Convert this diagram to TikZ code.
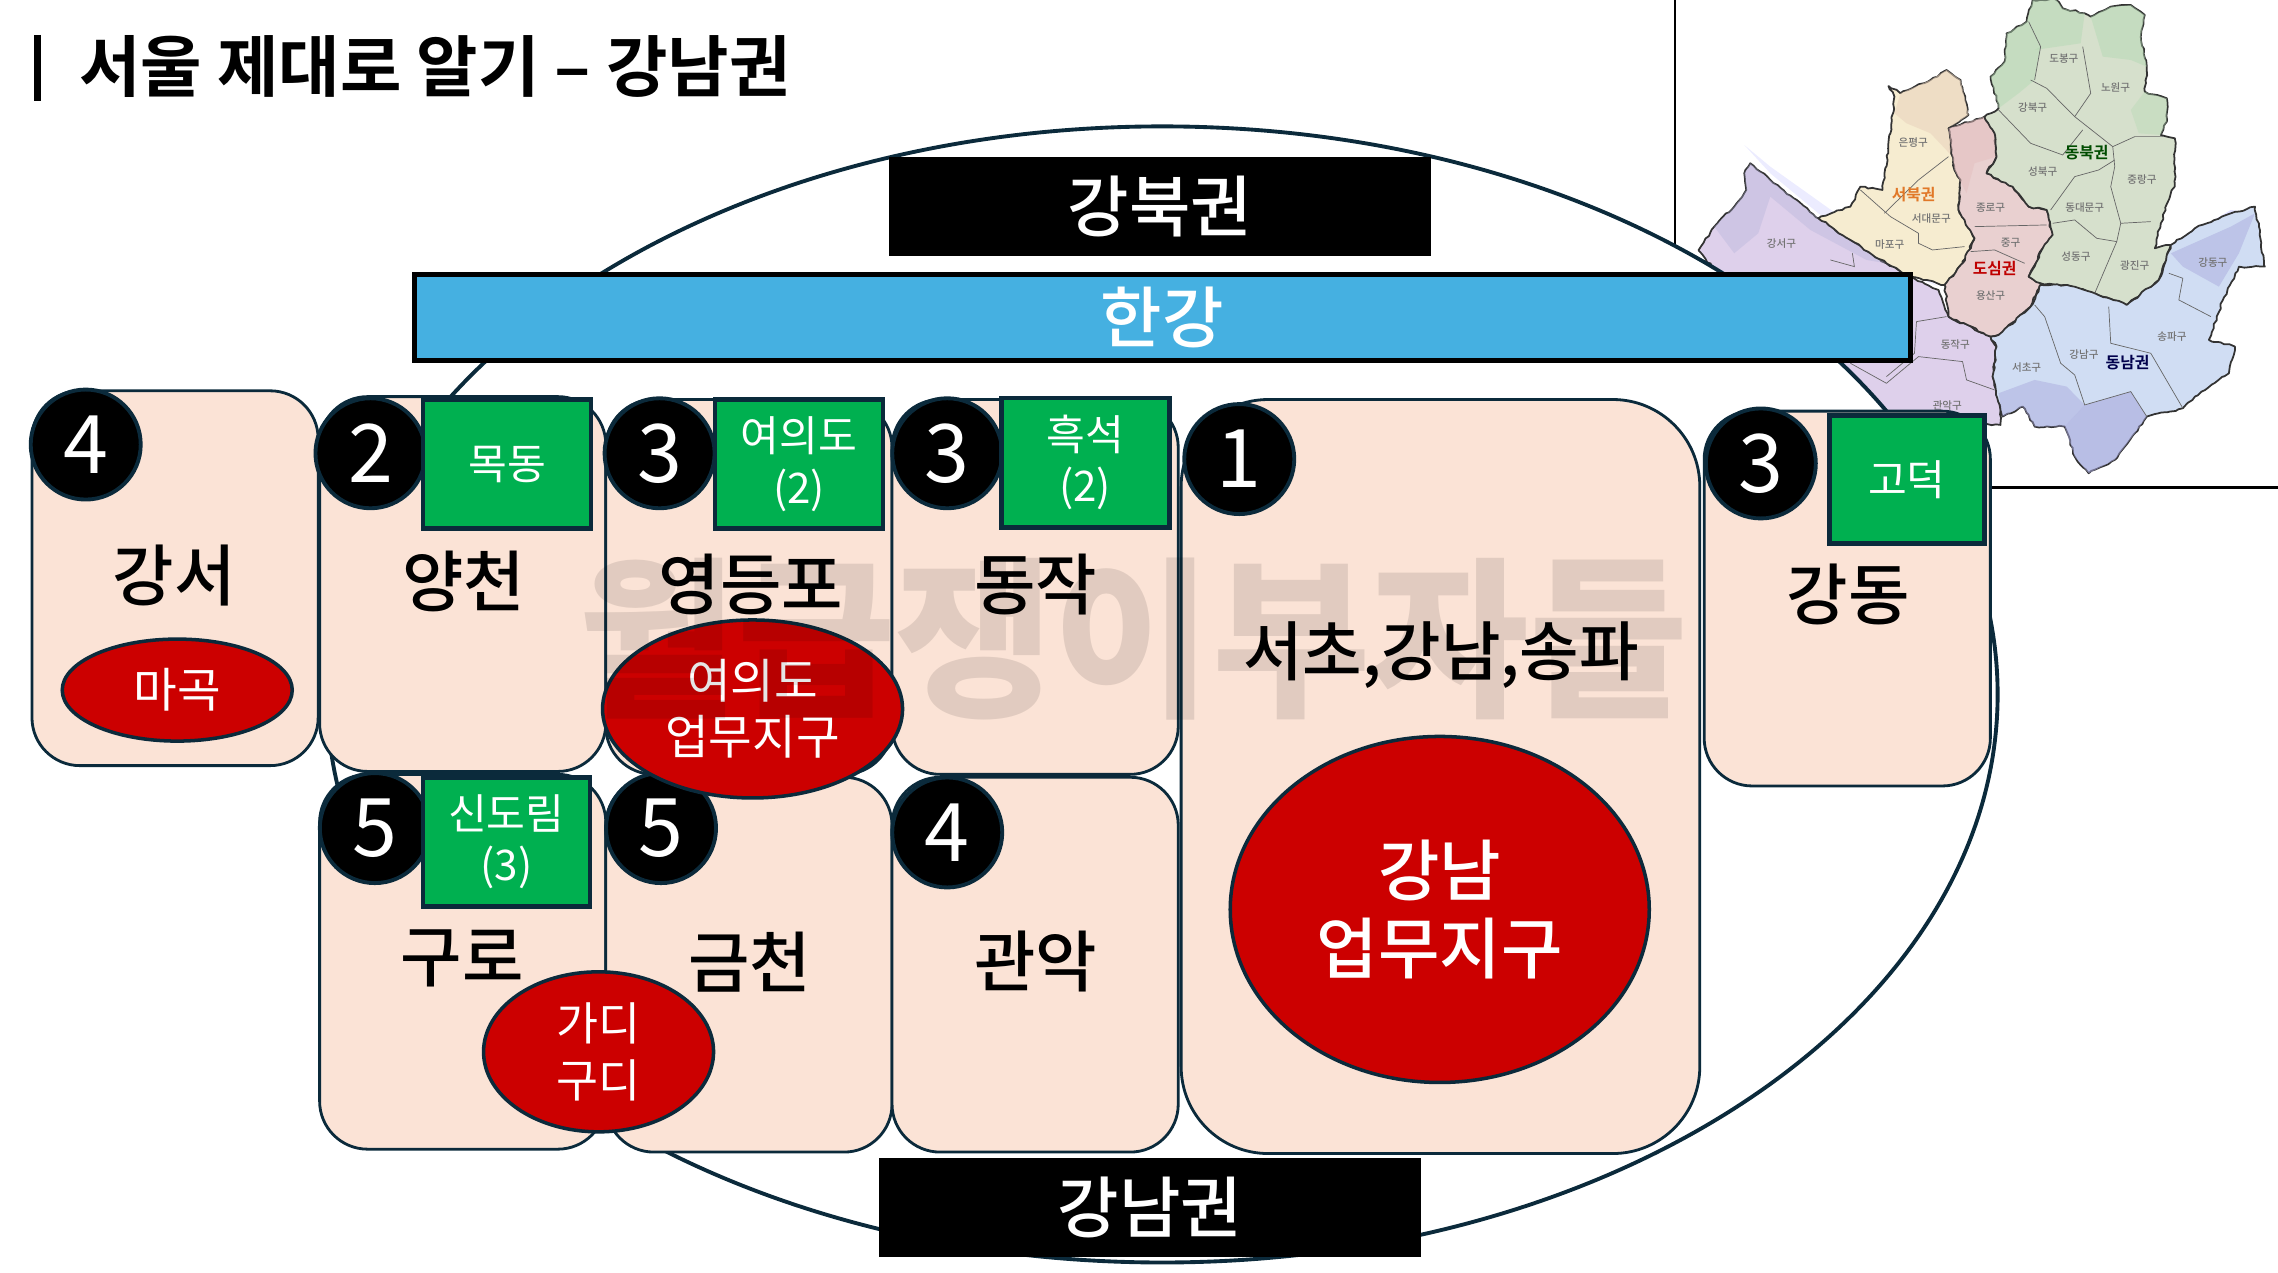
\documentclass[tikz,border=0pt]{standalone}
\usepackage{fontspec}
\setmainfont{Noto Sans CJK KR}[UprightFont=* Medium, BoldFont=* Bold]
\newfontfamily\markfont{Noto Sans CJK KR Black}
\newfontfamily\thinfont{Noto Sans CJK KR}
\usepackage{xcolor}
\definecolor{peach}{HTML}{FBE3D6}
\definecolor{navy}{HTML}{0B2A3B}
\definecolor{leaf}{HTML}{00B050}
\definecolor{crimson}{HTML}{CC0000}
\definecolor{river}{HTML}{45B0E1}
\usetikzlibrary{shapes.geometric}
\usetikzlibrary{decorations.pathmorphing}
\tikzset{
  zonebox/.style={draw=navy, fill=peach, line width=0.8pt, rounded corners=4.8mm},
  numdot/.style={circle, draw=navy, fill=black, line width=1.1pt, minimum size=11mm, inner sep=0pt, text=white, font=\thinfont\fontsize{23}{23}\selectfont},
  greenbox/.style={rectangle, draw=navy, fill=leaf, line width=1.3pt, inner sep=0pt, text=white, align=center, font=\thinfont\fontsize{12}{14.6}\selectfont},
  redoval/.style={ellipse, draw=navy, fill=crimson, line width=1pt, inner sep=0pt, text=white, align=center},
  blackbar/.style={rectangle, fill=black, inner sep=0pt, minimum width=54.2mm, minimum height=9.9mm, text=white, font=\fontsize{19}{19}\selectfont},
  zonelabel/.style={inner sep=0pt, font=\fontsize{19}{19}\selectfont},
  maplabel/.style={inner sep=0pt, text=black!55, font=\fontsize{3}{4}\selectfont},
  mapline/.style={draw=black!60, line width=0.2pt},
  mapedge/.style={draw=black!80, line width=0.5pt, line join=round, decorate, decoration={random steps, segment length=1.2pt, amplitude=0.3pt}},
}
\begin{document}
\begin{tikzpicture}[x=0.14528mm, y=-0.14528mm]
\useasboundingbox (0,0) rectangle (1568,875.6);
\pgfmathsetseed{7}

% frame lines
\draw[black, line width=0.7pt] (1153,0)--(1153,300);
\draw[black, line width=0.7pt] (1153,335.5)--(1568,335.5);

% seoul map
\begin{scope}[shift={(1135.8,0)}, xscale=0.2757, yscale=0.2294]
{
\fill[blue!12!white, opacity=0.6] (235,435)--(300,520)--(420,640)--(590,790)--(720,860)--(300,500)--cycle;
\fill[blue!15!white, opacity=0.8] (745,950)--(850,1000)--(950,900)--(975,850)--(1110,880)--(1190,925)--(1280,860)--(1310,730)--(1450,630)--(1510,640)--(1400,680)--(1320,740)--(1290,860)--(1190,940)--(1100,900)--(990,870)--(880,1000)--(840,1020)--cycle;

\draw[mapedge, fill={rgb,255:red,222;green,208;blue,235}] (250,490)--(300,540)--(420,655)--(500,720)--(590,790)--(650,830)--(720,870)--(745,950)--(850,1010)--(865,1040)--(855,1130)--(875,1230)--(875,1275)--(840,1272)--(500,1300)--(120,750)--(160,680)--(210,620)--(240,570)--(235,520)--cycle;
\fill[black!50!blue!30!white, opacity=0.35] (250,490)--(300,540)--(420,655)--(500,720)--(590,790)--(540,780)--(400,690)--(300,590)--(270,700)--(210,760)--(160,680)--(210,620)--(240,570)--(235,520)--cycle;

\draw[mapedge, fill={rgb,255:red,246;green,236;blue,208}] (420,655)--(500,620)--(525,560)--(580,570)--(600,400)--(610,290)--(595,258)--(625,280)--(700,240)--(740,210)--(775,240)--(795,345)--(745,385)--(760,510)--(775,540)--(770,630)--(810,715)--(780,790)--(735,855)--(650,830)--(590,790)--(500,720)--cycle;
\fill[brown!35!white, opacity=0.55] (625,280)--(700,240)--(740,210)--(775,240)--(795,345)--(745,385)--(755,470)--(700,400)--(640,370)--(610,340)--cycle;

\draw[mapedge, fill={rgb,255:red,233;green,208;blue,208}] (745,385)--(835,350)--(860,400)--(865,470)--(840,520)--(905,560)--(945,620)--(990,630)--(1005,705)--(980,745)--(945,830)--(975,850)--(950,920)--(870,1005)--(850,1010)--(745,950)--(735,855)--(780,790)--(810,715)--(770,630)--(775,540)--(760,510)--cycle;
\fill[black!40!red!25!white, opacity=0.5] (745,385)--(835,350)--(860,400)--(865,470)--(810,490)--(790,580)--(760,510)--cycle;

\draw[mapedge, fill={rgb,255:red,214;green,224;blue,204}] (835,350)--(870,325)--(850,230)--(885,185)--(890,100)--(940,65)--(955,0)--(1015,0)--(1030,25)--(1085,40)--(1100,50)--(1150,20)--(1200,15)--(1235,45)--(1225,110)--(1240,200)--(1235,275)--(1290,295)--(1290,365)--(1275,405)--(1310,415)--(1310,550)--(1275,670)--(1260,745)--(1300,735)--(1270,840)--(1190,915)--(1110,880)--(1040,855)--(975,850)--(945,830)--(980,745)--(1005,705)--(990,630)--(945,620)--(905,560)--(840,520)--(865,470)--(860,400)--cycle;
\fill[black!50!green!30!white, opacity=0.45] (955,0)--(1015,0)--(1030,25)--(1085,40)--(1075,130)--(960,150)--(975,140)--(940,65)--cycle;
\fill[black!50!green!30!white, opacity=0.45] (1100,50)--(1150,20)--(1200,15)--(1235,45)--(1225,110)--(1240,200)--(1200,180)--(1130,170)--cycle;
\fill[black!50!green!30!white, opacity=0.45] (890,100)--(940,65)--(975,140)--(960,240)--(920,280)--(870,325)--(850,230)--(885,185)--cycle;
\fill[black!50!green!30!white, opacity=0.35] (1235,275)--(1290,295)--(1290,365)--(1275,405)--(1220,400)--(1200,330)--cycle;

\draw[mapedge, fill={rgb,255:red,208;green,221;blue,243}] (850,1010)--(870,1005)--(950,920)--(975,855)--(1040,855)--(1110,880)--(1190,915)--(1270,840)--(1300,735)--(1360,685)--(1450,640)--(1510,620)--(1520,680)--(1535,800)--(1470,800)--(1430,900)--(1395,1020)--(1460,1040)--(1445,1120)--(1360,1190)--(1330,1225)--(1240,1250)--(1210,1300)--(1160,1380)--(1095,1420)--(1060,1370)--(1035,1280)--(960,1280)--(930,1220)--(880,1250)--(875,1230)--(855,1130)--(865,1040)--cycle;
\fill[black!40!blue!35!white, opacity=0.55] (1085,1215)--(1200,1175)--(1240,1250)--(1210,1300)--(1160,1380)--(1095,1420)--(1060,1370)--(1035,1280)--cycle;
\fill[black!40!blue!35!white, opacity=0.45] (870,1180)--(960,1140)--(1040,1160)--(1085,1215)--(1035,1280)--(960,1280)--(930,1220)--(880,1250)--cycle;
\fill[black!40!blue!35!white, opacity=0.45] (1300,760)--(1450,680)--(1510,640)--(1470,760)--(1420,860)--(1330,800)--cycle;

% district lines
\draw[mapline] (950,240)--(990,265)--(1060,350)--(1155,440)--(1160,500)--(1150,560)--(1175,670)--(1165,725)--(1110,880);
\draw[mapline] (1080,140)--(1100,280)--(1060,350);
\draw[mapline] (945,65)--(975,140)--(960,240);
\draw[mapline] (870,330)--(950,430)--(1030,465)--(1080,390);
\draw[mapline] (1155,440)--(1210,410)--(1280,410);
\draw[mapline] (1000,630)--(1060,530)--(1120,510)--(1160,480);
\draw[mapline] (1005,670)--(1060,660)--(1115,715)--(1165,725);
\draw[mapline] (1175,670)--(1250,665);
\draw[mapline] (810,680)--(990,675);
\draw[mapline] (800,755)--(860,750)--(935,790);
\draw[mapline] (525,570)--(600,650)--(670,700)--(670,730)--(705,750)--(785,740);
\draw[mapline] (585,640)--(670,540)--(745,470);
\draw[mapline] (960,915)--(985,950)--(1025,1090)--(1060,1125)--(1085,1215)--(1200,1175)--(1240,1250);
\draw[mapline] (1145,920)--(1150,1030)--(1250,1060)--(1330,1225);
\draw[mapline] (1295,820)--(1330,835)--(1320,900)--(1400,950);
\draw[mapline] (665,965)--(740,950);
\draw[mapline] (665,965)--(660,1060)--(590,1130);
\draw[mapline] (500,1090)--(590,1150)--(670,1070)--(780,1085)--(790,1140)--(860,1170);
\draw[mapline] (450,780)--(510,800)--(505,760);

% district names
\node[maplabel] (dobong) at (1033,177) {도봉구};
\node[maplabel] (nowon) at (1162,262) {노원구};
\node[maplabel] (gangbuk) at (955,322) {강북구};
\node[maplabel] (eunpyeong) at (657,428) {은평구};
\node[maplabel] (seongbuk) at (980,515) {성북구};
\node[maplabel] (jungnang) at (1228,540) {중랑구};
\node[maplabel] (jongno) at (850,622) {종로구};
\node[maplabel] (seodaemun) at (702,656) {서대문구};
\node[maplabel] (dongdaemun) at (1085,622) {동대문구};
\node[maplabel] (mapo) at (598,735) {마포구};
\node[maplabel] (gangseo) at (328,730) {강서구};
\node[maplabel] (junggu) at (900,728) {중구};
\node[maplabel] (seongdong) at (1063,770) {성동구};
\node[maplabel] (gwangjin) at (1210,798) {광진구};
\node[maplabel] (gangdong) at (1405,788) {강동구};
\node[maplabel] (yongsan) at (850,886) {용산구};
\node[maplabel] (songpa) at (1303,1010) {송파구};
\node[maplabel] (dongjak) at (762,1035) {동작구};
\node[maplabel] (gangnam) at (1083,1063) {강남구};
\node[maplabel] (seocho) at (940,1103) {서초구};
\node[maplabel] (gwanak) at (742,1218) {관악구};
\node[inner sep=0pt, text={rgb,255:red,225;green,120;blue,40}, font=\fontsize{4.5}{6}\selectfont\bfseries] (seobukgwon) at (658,585) {서북권};
\node[inner sep=0pt, text=green!30!black, font=\fontsize{4.5}{6}\selectfont\bfseries] (dongbukgwon) at (1090,458) {동북권};
\node[inner sep=0pt, text=red!75!black, font=\fontsize{4.5}{6}\selectfont\bfseries] (dosimgwon) at (860,805) {도심권};
\node[inner sep=0pt, text=blue!30!black, font=\fontsize{4.5}{6}\selectfont\bfseries] (dongnamgwon) at (1192,1087) {동남권};
}
\end{scope}

% big ring
\draw[navy, fill=white, line width=1.1pt] (800,478) ellipse [x radius=575, y radius=391];

% title
\node[anchor=west, inner sep=0pt, font=\fontsize{19}{19}\selectfont\bfseries] (title) at (54,46) {서울 제대로 알기 – 강남권};
\draw[black, line width=2pt] (25.5,24)--(25.5,69.5);

% top and bottom bars
\node[blackbar] (north) at (798.5,142) {강북권};
\node[blackbar] (south) at (791.5,831) {강남권};
\node[rectangle, draw=black, fill=river, line width=1.3pt, inner sep=0pt, minimum width=149.6mm, minimum height=8.6mm, text=white, font=\fontsize{19}{19}\selectfont] (hangang) at (800,218.5) {한강};

% boxes
\draw[zonebox] (22,269) rectangle (219,527);
\draw[zonebox] (220,273) rectangle (417,531);
\draw[zonebox] (417,275) rectangle (614,533);
\draw[zonebox] (614,275) rectangle (811,533);
\draw[zonebox, rounded corners=8.7mm] (813,275) rectangle (1170,794);
\draw[zonebox] (1173,283) rectangle (1370,541);
\draw[zonebox] (220,533) rectangle (417,791);
\draw[zonebox] (417,535) rectangle (614,793);
\draw[zonebox] (614,535) rectangle (811,793);

% box names
\node[zonelabel] (gs) at (120,396) {강서};
\node[zonelabel] (yc) at (319,400) {양천};
\node[zonelabel] (yd) at (517,402) {영등포};
\node[zonelabel] (dj) at (713,402) {동작};
\node[zonelabel, font=\fontsize{18.4}{19}\selectfont] (sc) at (992,451) {서초,강남,송파};
\node[zonelabel] (gd) at (1272,409) {강동};
\node[zonelabel] (gr) at (318,660) {구로};
\node[zonelabel] (gc) at (516,662) {금천};
\node[zonelabel] (ga) at (713,662) {관악};

% number dots
\node[numdot] (n1) at (59,306) {4};
\node[numdot] (n2) at (255,312) {2};
\node[numdot] (n3) at (454,312) {3};
\node[numdot] (n4) at (652,312) {3};
\node[numdot] (n5) at (853,316) {1};
\node[numdot] (n6) at (1212,319) {3};
\node[numdot] (n7) at (258,570) {5};
\node[numdot] (n8) at (455,570) {5};
\node[numdot] (n9) at (652,573) {4};

% green tags
\node[greenbox, minimum width=16.8mm, minimum height=12.9mm] (mokdong) at (349,319.5) {목동};
\node[greenbox, minimum width=16.8mm, minimum height=12.9mm] (yeouido) at (550,319.5) {여의도\\(2)};
\node[greenbox, minimum width=16.8mm, minimum height=12.9mm] (heukseok) at (747,318.5) {흑석\\(2)};
\node[greenbox, minimum width=15.5mm, minimum height=12.8mm] (godeok) at (1312.5,330) {고덕};
\node[greenbox, minimum width=16.7mm, minimum height=12.9mm] (sindorim) at (348.5,579.5) {신도림\\(3)};

% red ovals
\node[redoval, minimum width=23mm, minimum height=10.2mm, font=\thinfont\fontsize{13.5}{17}\selectfont] (magok) at (122,475) {마곡};
\node[redoval, minimum width=30mm, minimum height=17.8mm, font=\thinfont\fontsize{13.5}{16}\selectfont] (yeouidowork) at (518,488) {여의도\\업무지구};
\node[redoval, minimum width=23mm, minimum height=16mm, font=\thinfont\fontsize{13}{16}\selectfont] (gadi) at (412,724) {가디\\구디};
\node[redoval, minimum width=41.9mm, minimum height=34.6mm, font=\fontsize{19}{22}\selectfont] (gangnamwork) at (991,626) {강남\\업무지구};

% watermark
\node[inner sep=0pt, text=black, text opacity=0.1, font=\markfont\fontsize{49}{49}\selectfont] (mark) at (780,440) {월급쟁이부자들};

\end{tikzpicture}
\end{document}
